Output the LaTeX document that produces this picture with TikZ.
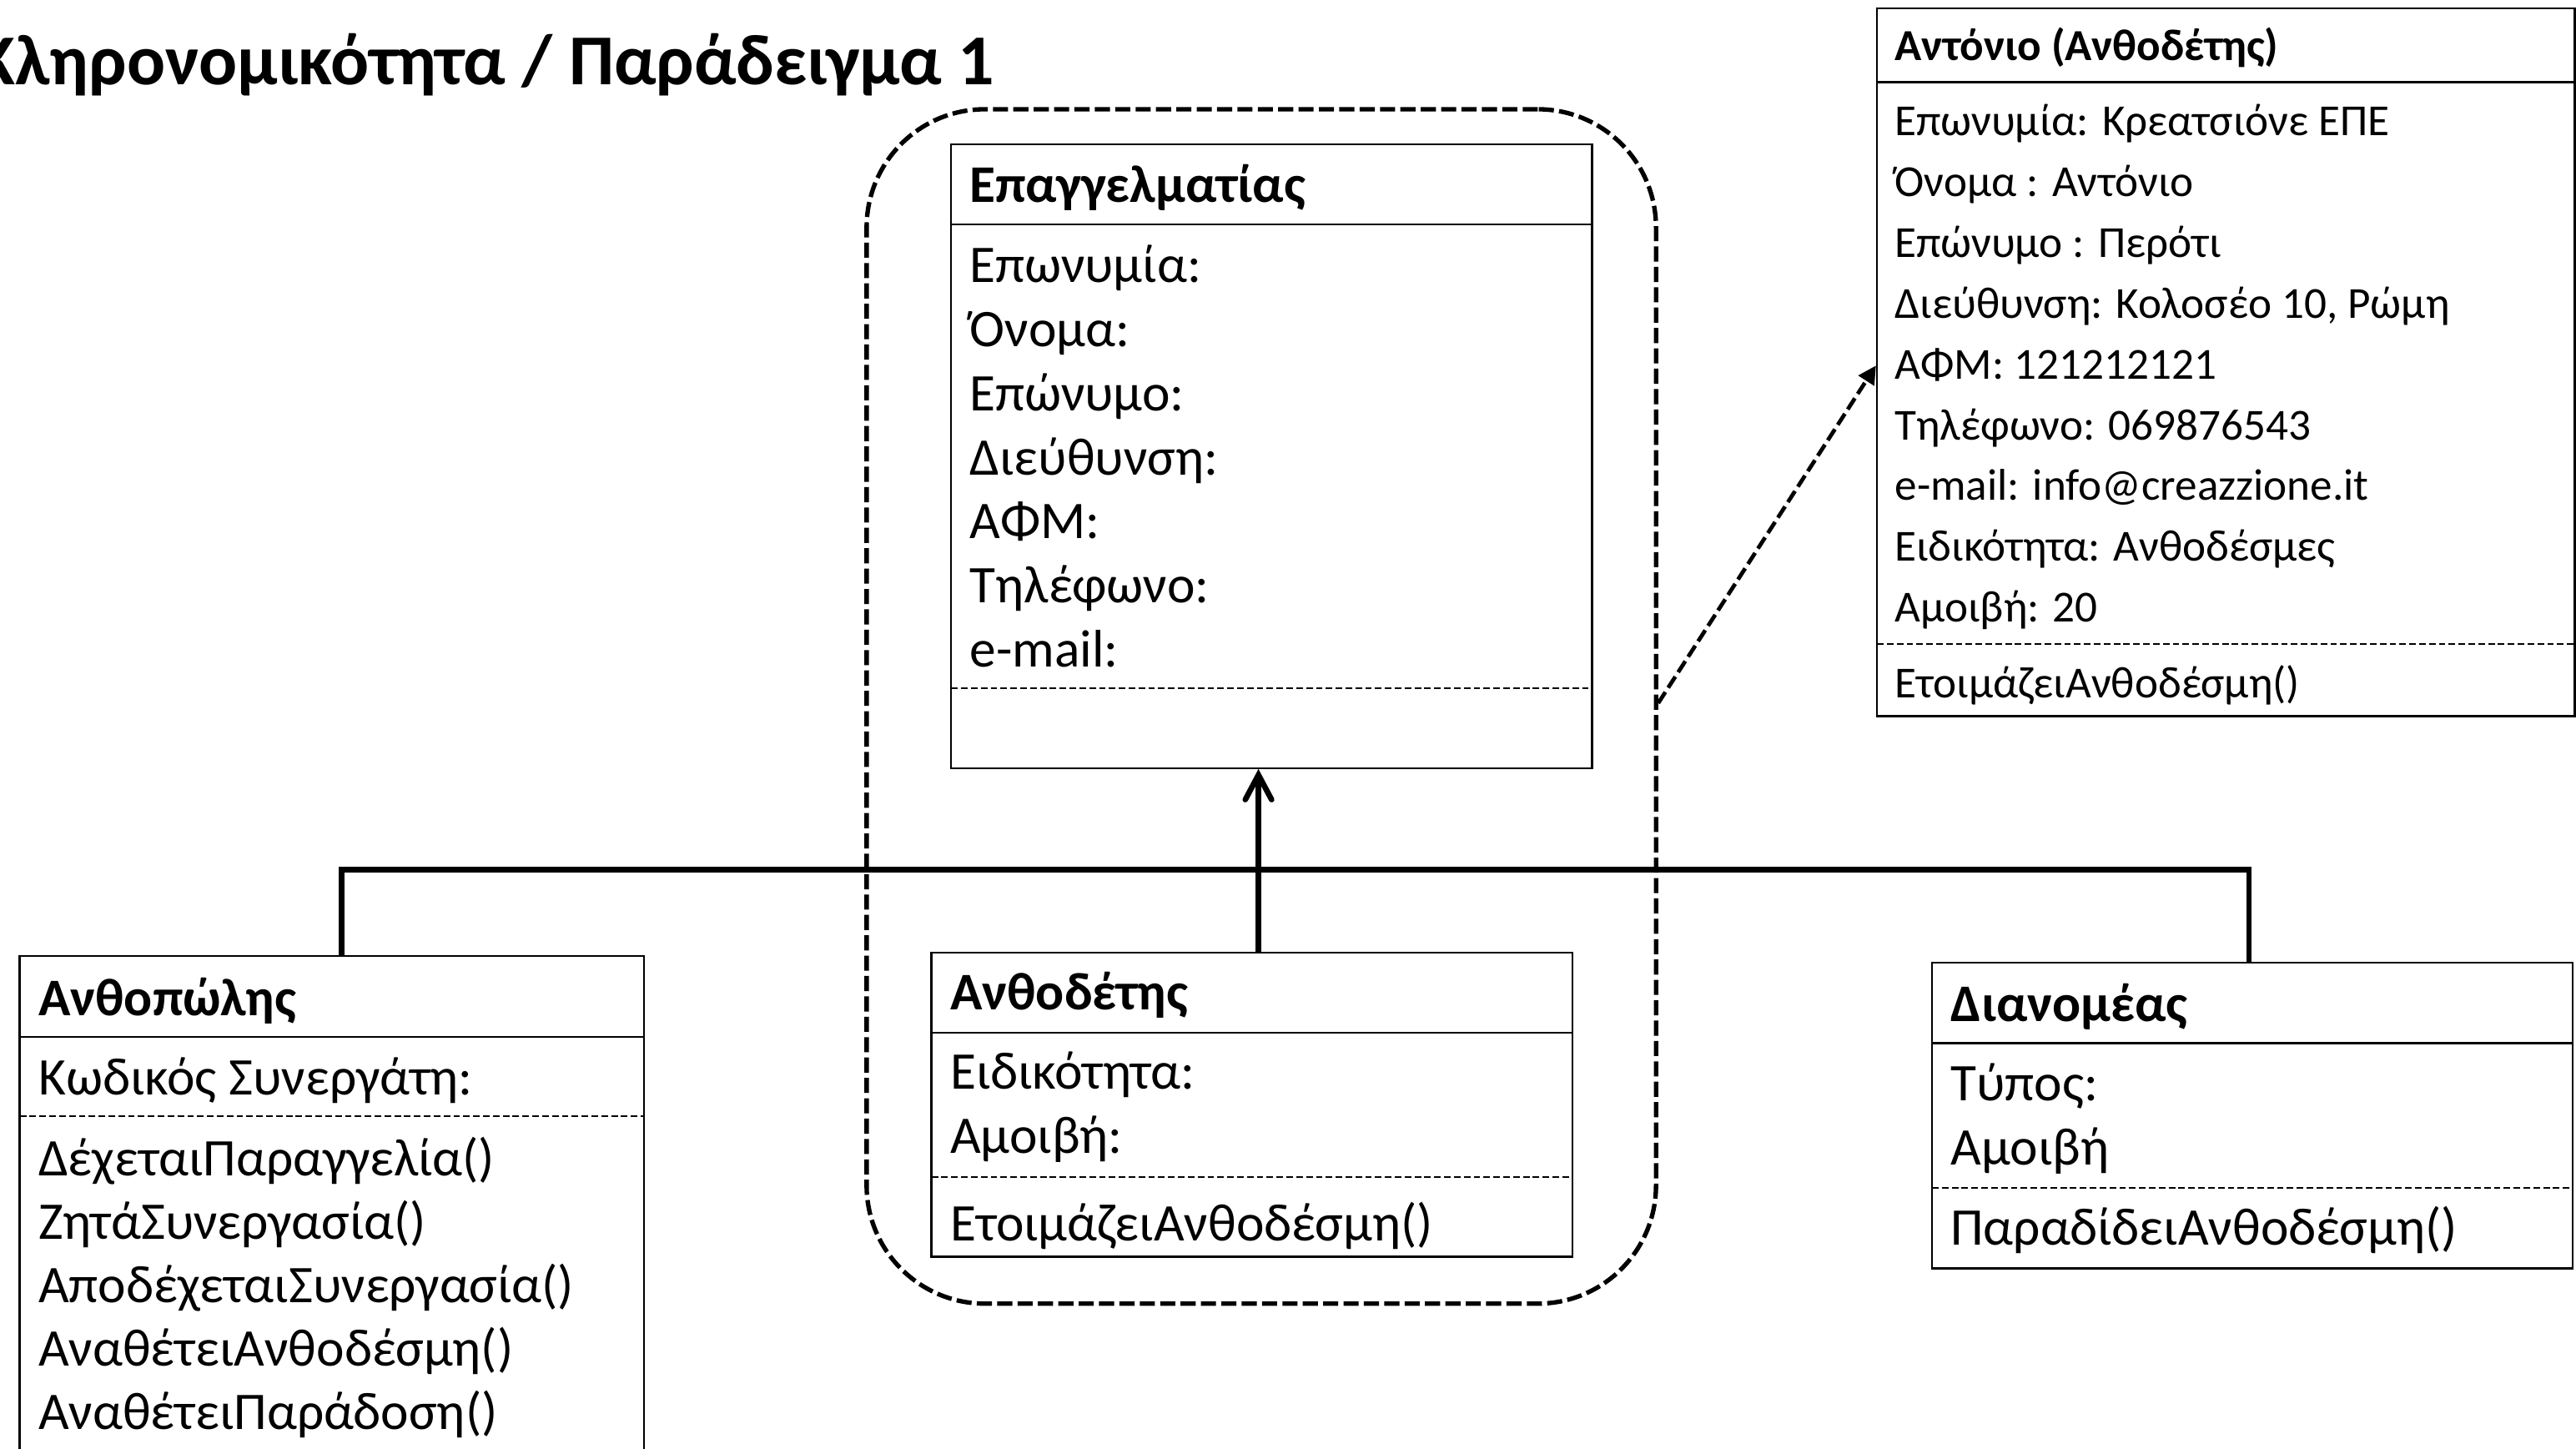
\documentclass[tikz,border=0pt]{standalone}
\usepackage{fontspec}
\setmainfont{Carlito}
\usepackage{tikz}
\usetikzlibrary{arrows.meta, fit}

\begin{document}
\begin{tikzpicture}[x=0.5pt, y=-0.5pt,
        classbox/.style={draw, line width=0.6pt, inner sep=0pt},
        classname/.style={anchor=base west, inner sep=0pt, font=\fontsize{16.1}{19}\selectfont\bfseries},
        member/.style={anchor=base west, inner sep=0pt, font=\fontsize{16.1}{19}\selectfont},
        smallname/.style={classname, font=\fontsize{13.5}{16}\selectfont\bfseries},
        smallmember/.style={member, font=\fontsize{13.5}{16}\selectfont},
        divider/.style={line width=0.5pt, dash pattern=on 2pt off 1pt},
        tree/.style={line width=1.7pt},
        group/.style={draw, line width=1.35pt, dash pattern=on 4.6pt off 1.6pt, rounded corners=36pt, inner sep=0pt},
        instof/.style={line width=1.2pt, dash pattern=on 4pt off 1.6pt, -{Triangle[length=5.5pt,width=5.5pt]}}]
        \path[use as bounding box, clip] (0,0) rectangle (1568,882);

        % Title
        \node[anchor=base west, inner sep=0pt, font=\fontsize{21.8}{26}\selectfont\bfseries] (title) at (-15,51.6) {Κληρονομικότητα / Παράδειγμα 1};

        % Dashed frame round the two classes
        \node[group, fit={(527.5,66.5) (1008,793.5)}] (grp) {};

        % Class Επαγγελματίας
        \node[classbox, fit={(579,88) (969,467.5)}] (epag) {};
        \draw[line width=0.6pt] (579,136.5) -- (969,136.5);
        \draw[divider] (579,419) -- (969,419);
        \node[classname] (epag-name) at (590,123) {Επαγγελματίας};
        \foreach \t [count=\i from 0] in {Επωνυμία:, Όνομα:, Επώνυμο:, Διεύθυνση:, ΑΦΜ:, Τηλέφωνο:, e-mail:}
            \node[member] (epag-\i) at (590,{172+39*\i}) {\t};

        % Class Ανθοπώλης
        \node[classbox, fit={(12,582) (392,900)}] (anthopolis) {};
        \draw[line width=0.6pt] (12,631) -- (392,631);
        \draw[divider] (12,679.5) -- (392,679.5);
        \node[classname] (anthopolis-name) at (23,618) {Ανθοπώλης};
        \node[member] (anthopolis-0) at (23,666.5) {Κωδικός Συνεργάτη:};
        \foreach \t [count=\i from 0] in {ΔέχεταιΠαραγγελία(), ΖητάΣυνεργασία(), ΑποδέχεταιΣυνεργασία(), ΑναθέτειΑνθοδέσμη(), ΑναθέτειΠαράδοση()}
            \node[member] (anthopolis-m\i) at (23,{715.5+38.6*\i}) {\t};

        % Class Ανθοδέτης
        \node[classbox, fit={(567,580) (957,765)}] (anthodetis) {};
        \draw[line width=0.6pt] (567,628.5) -- (957,628.5);
        \draw[divider] (567,716.5) -- (957,716.5);
        \node[classname] (anthodetis-name) at (578,614.5) {Ανθοδέτης};
        \node[member] (anthodetis-0) at (578,663) {Ειδικότητα:};
        \node[member] (anthodetis-1) at (578,702) {Αμοιβή:};
        \node[member] (anthodetis-m0) at (578,755.5) {ΕτοιμάζειΑνθοδέσμη()};

        % Class Διανομέας
        \node[classbox, fit={(1176,586) (1566,772)}] (dianomeas) {};
        \draw[line width=0.6pt] (1176,635) -- (1566,635);
        \draw[divider] (1176,723) -- (1566,723);
        \node[classname] (dianomeas-name) at (1187,622) {Διανομέας};
        \node[member] (dianomeas-0) at (1187,670) {Τύπος:};
        \node[member] (dianomeas-1) at (1187,709) {Αμοιβή};
        \node[member] (dianomeas-m0) at (1187,758) {ΠαραδίδειΑνθοδέσμη()};

        % Object Αντόνιο
        \node[classbox, fit={(1142.5,5) (1567.2,436)}] (antonio) {};
        \draw[line width=0.6pt] (1142.5,50) -- (1567.2,50);
        \draw[divider] (1142.5,392) -- (1567.2,392);
        \node[smallname] (antonio-name) at (1153,37) {Αντόνιο (Ανθοδέτης)};
        \foreach \t [count=\i from 0] in {Επωνυμία: Κρεατσιόνε ΕΠΕ, Όνομα : Αντόνιο, Επώνυμο : Περότι, {Διεύθυνση: Κολοσέο 10, Ρώμη}, ΑΦΜ: 121212121, Τηλέφωνο: 069876543, e-mail: info@creazzione.it, Ειδικότητα: Ανθοδέσμες, Αμοιβή: 20}
            \node[smallmember] (antonio-\i) at (1153,{82.6+37*\i}) {\t};
        \node[smallmember] (antonio-m0) at (1153,424.6) {ΕτοιμάζειΑνθοδέσμη()};

        % Inheritance
        \coordinate (hub) at (766,529.5);
        \draw[tree] ([xshift=3pt]anthopolis.north) |- (hub) -| ([xshift=-1pt]dianomeas.north);
        \draw[tree, -{Straight Barb[length=7.5pt,width=8pt,line cap=round]}] (anthodetis.north -| hub) -- (epag.south -| hub);

        % Instance of Ανθοδέτης
        \draw[instof] (grp.east |- 0,428) -- (antonio.west |- 0,222.5);
    \end{tikzpicture}
\end{document}
